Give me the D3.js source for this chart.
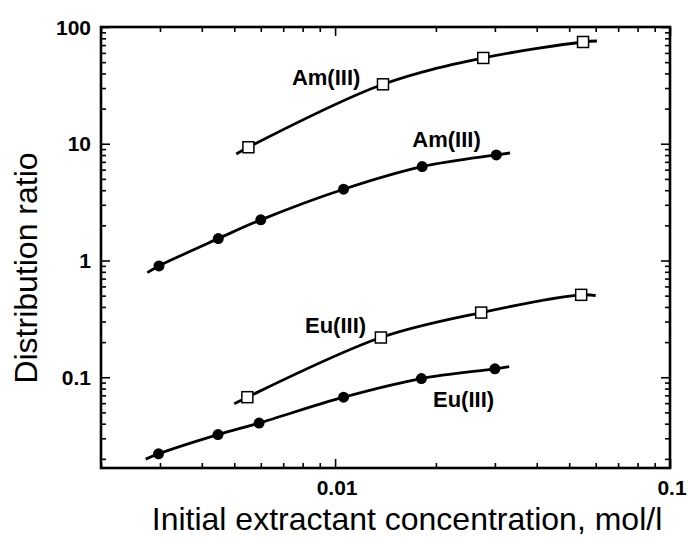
<!DOCTYPE html>
<html>
<head>
<meta charset="utf-8">
<script src="https://cdn.jsdelivr.net/npm/d3@7"></script>
<style>
  body { margin: 0; background: #fff; }
  svg { display: block; }
</style>
</head>
<body>
<div id="chart"></div>
<script>
let width = 688;
let height = 541;

// data (x in mol/l, y = distribution ratio)
let amOpenX = [0.00551, 0.0139, 0.0277, 0.0550];
let amOpenY = [9.33, 32.3, 54.3, 74.4];
let amOpenEnds = [[0.00507, 8.18], [0.0605, 75.9]];

let amFillX = [0.00298, 0.00448, 0.0060, 0.0106, 0.0182, 0.0303];
let amFillY = [0.899, 1.54, 2.23, 4.08, 6.37, 8.02];
let amFillEnds = [[0.00275, 0.788], [0.0333, 8.34]];

let euOpenX = [0.00547, 0.0137, 0.0273, 0.0543];
let euOpenY = [0.0675, 0.219, 0.358, 0.508];
let euOpenEnds = [[0.00500, 0.0592], [0.0600, 0.5005]];

let euFillX = [0.00297, 0.00447, 0.00593, 0.0106, 0.0181, 0.0300];
let euFillY = [0.0221, 0.0323, 0.0405, 0.0675, 0.0975, 0.118];
let euFillEnds = [[0.00272, 0.0199], [0.0331, 0.1236]];

let xMajor = [0.01, 0.1];
let xMajorLabels = ['0.01', '0.1'];
let yMajor = [0.1, 1, 10, 100];
let yMajorLabels = ['0.1', '1', '10', '100'];

let seriesLabels = [
  { text: 'Am(III)', x: 0.00743, y: 31.9 },
  { text: 'Am(III)', x: 0.0170, y: 9.44 },
  { text: 'Eu(III)', x: 0.00813, y: 0.240 },
  { text: 'Eu(III)', x: 0.0196, y: 0.0561 }
];

let margin = { left: 101, right: 18, top: 27, bottom: 73 };

let svg = d3.select('#chart')
  .append('svg')
  .attr('width', width)
  .attr('height', height);

let x = d3.scaleLog()
  .domain([0.002, 0.1])
  .range([margin.left, width - margin.right]);

let y = d3.scaleLog()
  .domain([0.0167, 100])
  .range([height - margin.bottom, margin.top]);

let x0 = x.range()[0], x1 = x.range()[1];
let y0 = y.range()[0], y1 = y.range()[1];

let xMinor = x.ticks().filter(function(t) { return xMajor.indexOf(t) < 0; });
let yMinor = y.ticks().filter(function(t) {
  return !yMajor.some(function(m) { return Math.abs(m - t) / m < 1e-6; });
});

function drawAxis(axisFn, scale, pos, values, size) {
  let g = svg.append('g')
    .attr('transform', pos)
    .call(axisFn(scale).tickValues(values).tickSize(size).tickFormat(''));
  g.select('.domain').remove();
  g.selectAll('line').attr('stroke', '#000').attr('stroke-width', 1.6);
}

// ticks pointing inward on all four sides
drawAxis(d3.axisBottom, x, 'translate(0,' + y0 + ')', xMinor, -5);
drawAxis(d3.axisBottom, x, 'translate(0,' + y0 + ')', xMajor, -9);
drawAxis(d3.axisTop, x, 'translate(0,' + y1 + ')', xMinor, -5);
drawAxis(d3.axisTop, x, 'translate(0,' + y1 + ')', xMajor, -9);
drawAxis(d3.axisLeft, y, 'translate(' + x0 + ',0)', yMinor, -5);
drawAxis(d3.axisLeft, y, 'translate(' + x0 + ',0)', yMajor, -9);
drawAxis(d3.axisRight, y, 'translate(' + x1 + ',0)', yMinor, -5);
drawAxis(d3.axisRight, y, 'translate(' + x1 + ',0)', yMajor, -9);

svg.append('rect')
  .attr('x', x0)
  .attr('y', y1)
  .attr('width', x1 - x0)
  .attr('height', y0 - y1)
  .attr('fill', 'none')
  .attr('stroke', '#000')
  .attr('stroke-width', 2.6);

// tick labels
svg.selectAll('.xlab')
  .data(xMajor)
  .enter()
  .append('text')
  .attr('x', function(d) { return x(d) + 2; })
  .attr('y', y0 + 27)
  .attr('text-anchor', 'middle')
  .style('font-family', 'Liberation Sans, Arial, sans-serif')
  .style('font-weight', 'bold')
  .style('font-size', '21px')
  .text(function(d, i) { return xMajorLabels[i]; });

svg.selectAll('.ylab')
  .data(yMajor)
  .enter()
  .append('text')
  .attr('x', x0 - 10)
  .attr('y', function(d) { return y(d); })
  .attr('dy', '0.36em')
  .attr('text-anchor', 'end')
  .style('font-family', 'Liberation Sans, Arial, sans-serif')
  .style('font-weight', 'bold')
  .style('font-size', '21px')
  .text(function(d, i) { return yMajorLabels[i]; });

// axis titles
svg.append('text')
  .attr('x', 407)
  .attr('y', 530)
  .attr('text-anchor', 'middle')
  .style('font-family', 'Liberation Sans, Arial, sans-serif')
  .style('font-size', '32px')
  .text('Initial extractant concentration, mol/l');

svg.append('text')
  .attr('transform', 'translate(37,268) rotate(-90)')
  .attr('text-anchor', 'middle')
  .style('font-family', 'Liberation Sans, Arial, sans-serif')
  .style('font-size', '32px')
  .text('Distribution ratio');

// fitted curves
let line = d3.line()
  .x(function(d) { return x(d[0]); })
  .y(function(d) { return y(d[1]); })
  .curve(d3.curveCatmullRom.alpha(0.5));

function curvePoints(xs, ys, ends) {
  let pts = xs.map(function(v, i) { return [v, ys[i]]; });
  return [ends[0]].concat(pts, [ends[1]]);
}

let series = [
  { xs: amOpenX, ys: amOpenY, ends: amOpenEnds, open: true },
  { xs: amFillX, ys: amFillY, ends: amFillEnds, open: false },
  { xs: euOpenX, ys: euOpenY, ends: euOpenEnds, open: true },
  { xs: euFillX, ys: euFillY, ends: euFillEnds, open: false }
];

series.forEach(function(s) {
  svg.append('path')
    .datum(curvePoints(s.xs, s.ys, s.ends))
    .attr('d', line)
    .attr('fill', 'none')
    .attr('stroke', '#000')
    .attr('stroke-width', 2.8);

  let pts = s.xs.map(function(v, i) { return [v, s.ys[i]]; });
  if (s.open) {
    svg.selectAll(null)
      .data(pts)
      .enter()
      .append('rect')
      .attr('x', function(d) { return x(d[0]) - 5.5; })
      .attr('y', function(d) { return y(d[1]) - 5.5; })
      .attr('width', 11)
      .attr('height', 11)
      .attr('fill', '#fff')
      .attr('stroke', '#000')
      .attr('stroke-width', 1.5);
  } else {
    svg.selectAll(null)
      .data(pts)
      .enter()
      .append('circle')
      .attr('cx', function(d) { return x(d[0]); })
      .attr('cy', function(d) { return y(d[1]); })
      .attr('r', 5.5)
      .attr('fill', '#000');
  }
});

// series labels
svg.selectAll('.slab')
  .data(seriesLabels)
  .enter()
  .append('text')
  .attr('x', function(d) { return x(d.x); })
  .attr('y', function(d) { return y(d.y); })
  .style('font-family', 'Liberation Sans, Arial, sans-serif')
  .style('font-weight', 'bold')
  .style('font-size', '22px')
  .text(function(d) { return d.text; });
</script>
</body>
</html>
